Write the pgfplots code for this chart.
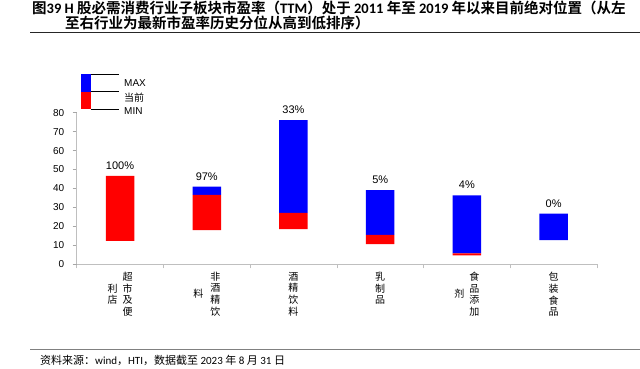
\documentclass[border=0pt]{standalone}
\usepackage{pgfplots}
\pgfplotsset{compat=1.18}
\usepackage{fontspec}
\setmainfont{Liberation Sans}
\newfontfamily\cjk[BoldFont={Noto Sans CJK SC Bold}]{Noto Sans CJK SC}
\newfontfamily\lat{Carlito}
\definecolor{myred}{RGB}{255,0,0}
\definecolor{myblue}{RGB}{0,0,255}
\newcommand\vc[1]{\begin{tabular}[c]{@{}c@{}}#1\end{tabular}}
\newcommand\labA{\vc{利\\店}\hspace{5pt}\vc{超\\市\\及\\便}}
\newcommand\labB{\vc{料}\hspace{7pt}\vc{非\\酒\\精\\饮}}
\newcommand\labC{\vc{酒\\精\\饮\\料}}
\newcommand\labD{\vc{乳\\制\\品}}
\newcommand\labE{\vc{剂}\hspace{5pt}\vc{食\\品\\添\\加}}
\newcommand\labF{\vc{包\\装\\食\\品}}
\tikzset{pct/.style={font=\fontsize{11}{13}\selectfont, anchor=base, yshift=6.5pt, inner sep=0pt}}
\begin{document}
\begin{tikzpicture}[x=1pt,y=1pt]
\useasboundingbox (0,0) rectangle (640,-369);
% title
\node[anchor=west, inner sep=0pt, font=\fontsize{14.5}{16}\selectfont\bfseries] at (32,-7.5)
 {{\cjk 图}{\lat 39 H }{\cjk 股必需消费行业子板块市盈率（}{\lat TTM}{\cjk ）处于 }{\lat 2011 }{\cjk 年至 }{\lat 2019 }{\cjk 年以来目前绝对位置（从左}};
\node[anchor=west, inner sep=0pt, font=\fontsize{14.5}{16}\selectfont\bfseries] at (65,-22.5)
 {{\cjk 至右行业为最新市盈率历史分位从高到低排序）}};
\draw[line width=1pt, black!85] (30,-33) -- (640,-33);
% footer
\draw[line width=1.2pt, black!50] (30,-349.3) -- (640,-349.3);
\node[anchor=west, inner sep=0pt, font=\fontsize{11}{13}\selectfont] at (40,-360)
 {{\cjk 资料来源：}{\lat wind}{\cjk ，}{\lat HTI}{\cjk ，数据截至 }{\lat 2023 }{\cjk 年 }{\lat 8 }{\cjk 月 }{\lat 31 }{\cjk 日}};
\begin{axis}[
 at={(76.7pt,-264.3pt)}, anchor=south west,
 scale only axis, width=520.3pt, height=151.6pt,
 xmin=-0.5, xmax=5.5, ymin=0, ymax=80,
 ybar stacked, bar width=28.5pt,
 axis x line*=bottom, axis y line*=left,
 axis line style={draw=black!25, line width=0.8pt},
 ytick={0,10,...,80},
 xtick={0,...,5},
 xticklabels={\labA,\labB,\labC,\labD,\labE,\labF},
 minor xtick={-0.5,0.5,...,5.5},
 tick align=outside,
 major tick length=4pt, minor tick length=4pt,
 major x tick style={draw=none},
 minor x tick style={draw=black!25, line width=0.6pt},
 major y tick style={draw=black!35, line width=0.6pt},
 yticklabel style={font=\fontsize{10}{12}\selectfont, /pgf/number format/assume math mode=true, xshift=-5pt},
 xticklabel style={anchor=north, font=\cjk\fontsize{10}{11.7}\selectfont, yshift=0pt},
 clip=false,
]
\addplot[fill=none, draw=none] coordinates {(0,12.3) (1,18.1) (2,18.5) (3,10.7) (4,4.7) (5,12.8)};
\addplot[fill=myred, draw=none] coordinates {(0,34.3) (1,18.5) (2,8.6) (3,4.8) (4,1.1) (5,0)};
\addplot[fill=myblue, draw=none] coordinates {(0,0) (1,4.4) (2,49.0) (3,23.7) (4,30.6) (5,13.9)};
\node[pct] at (axis cs:0,46.6) {100\%};
\node[pct] at (axis cs:1,41.0) {97\%};
\node[pct] at (axis cs:2,76.1) {33\%};
\node[pct] at (axis cs:3,39.2) {5\%};
\node[pct] at (axis cs:4,36.4) {4\%};
\node[pct] at (axis cs:5,26.7) {0\%};
\end{axis}
% legend
\fill[myblue] (81,-74) rectangle (91,-91.7);
\fill[myred] (81,-91.7) rectangle (91,-109.3);
\draw[line width=0.7pt] (91,-74) -- (119,-74);
\draw[line width=0.7pt] (91,-91.7) -- (119,-91.7);
\draw[line width=0.7pt] (91,-109.3) -- (119,-109.3);
\node[anchor=west, inner sep=0pt, font=\fontsize{10}{12}\selectfont] at (124,-83) {MAX};
\node[anchor=west, inner sep=0pt, font=\cjk\fontsize{10}{12}\selectfont] at (124,-97.3) {当前};
\node[anchor=west, inner sep=0pt, font=\fontsize{10}{12}\selectfont] at (124,-111) {MIN};
\end{tikzpicture}
\end{document}
